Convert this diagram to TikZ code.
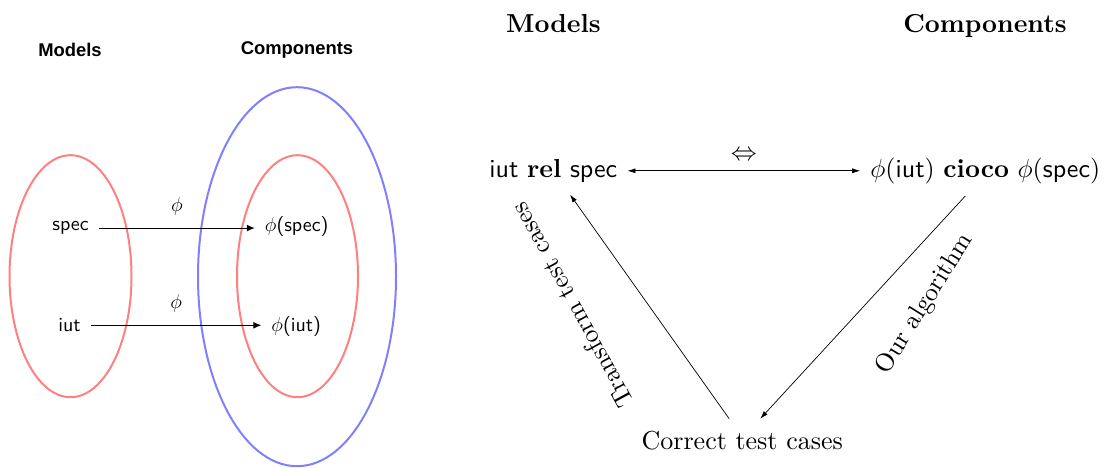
\documentclass[tikz,border=0pt]{standalone}
\usepackage{fix-cm}
\usepackage{fontspec}
\setmainfont{lmroman10-regular.otf}[BoldFont=lmroman10-bold.otf, ItalicFont=lmroman10-italic.otf]
\setsansfont{lmsans10-regular.otf}[BoldFont=lmsans10-bold.otf]
\newfontfamily\headfont{Liberation Sans}
\usetikzlibrary{arrows.meta,shapes.geometric}
\tikzset{
  redell/.style={draw=red!50, line width=2pt, ellipse, inner sep=0pt},
  blueell/.style={draw=blue!50, line width=2pt, ellipse, inner sep=0pt},
  lhead/.style={font=\headfont\bfseries\fontsize{18.4}{20}\selectfont, anchor=base, inner sep=0pt},
  llbl/.style={font=\sffamily\fontsize{20}{24}\selectfont, anchor=base, inner xsep=10pt, inner ysep=2pt},
  larr/.style={-{Latex[length=8pt,width=7pt]}, line width=1pt},
  lphi/.style={font=\fontsize{20}{24}\selectfont, inner sep=0pt},
  rhead/.style={font=\bfseries\fontsize{26}{30}\selectfont, anchor=base, inner sep=0pt},
  rtxt/.style={font=\fontsize{26}{30}\selectfont, anchor=base, inner xsep=10pt, inner ysep=12pt},
  rarr/.style={-{Latex[length=8pt,width=5pt]}, line width=0.7pt},
  rlbl/.style={font=\fontsize{25.5}{30}\selectfont, inner sep=0pt}
}
\begin{document}
\begin{tikzpicture}[x=1pt,y=-1pt]
\useasboundingbox (0,0) rectangle (1111,468);
% ---------- left part ----------
\node[lhead] (lmodels) at (70,56.7) {Models};
\node[lhead] (lcomps) at (297,55) {Components};
\node[redell, minimum width=122pt, minimum height=242pt] (modset) at (70.5,276.2) {};
\node[blueell, minimum width=198pt, minimum height=379pt] (compset) at (297,276.7) {};
\node[redell, minimum width=121pt, minimum height=242pt] (imgset) at (297.5,276.2) {};
\node[llbl] (spec) at (70.5,230.7) {spec};
\node[llbl] (phispec) at (296.7,231.5) {$\phi$(spec)};
\node[llbl] (iut) at (69.5,331.7) {iut};
\node[llbl] (phiiut) at (296.2,331.5) {$\phi$(iut)};
\draw[larr] (spec.east) -- node[lphi, midway, above=12pt] (phi1) {$\phi$} (spec.east -| phispec.west);
\draw[larr] (iut.east) -- node[lphi, midway, above=12pt] (phi2) {$\phi$} (iut.east -| phiiut.west);
% ---------- right part ----------
\node[rhead] (rmodels) at (553.5,33) {Models};
\node[rhead] (rcomps) at (985,33) {Components};
\node[rtxt] (rel) at (553.3,177.3) {\textsf{iut} \textbf{rel} \textsf{spec}};
\node[rtxt] (cioco) at (985.3,177.3) {$\phi$(\textsf{iut}) \textbf{cioco} $\phi$(\textsf{spec})};
\node[rtxt] (correct) at (742.2,449.3) {Correct test cases};
\draw[rarr, {Latex[length=8pt,width=5pt]}-{Latex[length=8pt,width=5pt]}] (rel.east) -- node[midway, above=10pt, inner sep=0pt, font=\fontsize{26}{30}\selectfont] (equiv) {$\Leftrightarrow$} (rel.east -| cioco.west);
\draw[rarr] ([xshift=-13pt]correct.north) -- ([xshift=16.7pt]rel.south);
\draw[rarr] ([xshift=-20pt]cioco.south) -- ([xshift=18pt]correct.north);
\node[rlbl, rotate=118.6] (ttc) at (571.7,305.7) {Transform test cases};
\node[rlbl, rotate=58] (algo) at (925,304) {Our algorithm};
\end{tikzpicture}
\end{document}
